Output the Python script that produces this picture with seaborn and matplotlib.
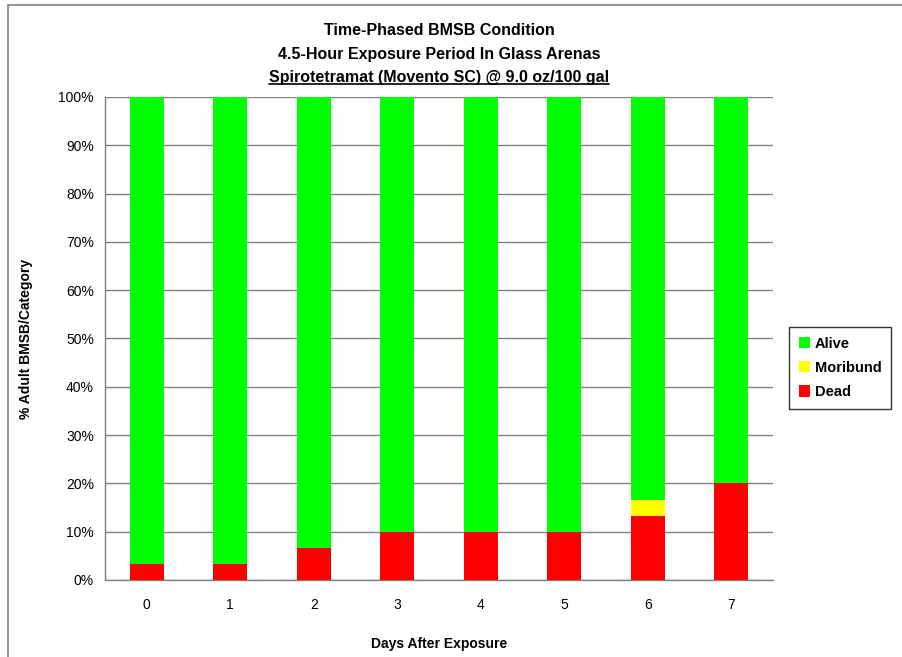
import numpy as np
import pandas as pd
import matplotlib
matplotlib.use("Agg")
import matplotlib.pyplot as plt
import seaborn as sns
from matplotlib.patches import Rectangle, Patch
from matplotlib.lines import Line2D

days = ["0", "1", "2", "3", "4", "5", "6", "7"]
dead = [3.33, 3.33, 6.67, 10.0, 10.0, 10.0, 13.33, 20.0]
moribund = [0.0, 0.0, 0.0, 0.0, 0.0, 0.0, 3.33, 0.0]
alive = [96.67, 96.67, 93.33, 90.0, 90.0, 90.0, 83.34, 80.0]
series = ["Alive", "Moribund", "Dead"]
colors = {"Alive": "#00FF00", "Moribund": "#FFFF00", "Dead": "#FF0000"}

sns.set_theme(style="white")
plt.rcParams["font.family"] = ["Liberation Sans", "DejaVu Sans"]
plt.rcParams["text.color"] = "black"
plt.rcParams["axes.labelcolor"] = "black"
plt.rcParams["xtick.color"] = "black"
plt.rcParams["ytick.color"] = "black"

df = pd.DataFrame({"Day": days, "Dead": dead, "Moribund": moribund, "Alive": alive})
df["top_dead"] = df["Dead"]
df["top_mori"] = df["Dead"] + df["Moribund"]
df["top_alive"] = df["top_mori"] + df["Alive"]

fig = plt.figure(figsize=(9.03, 6.57), dpi=100)
ax = fig.add_axes([0.1163, 0.1172, 0.7397, 0.7352])

# stacked bars drawn back-to-front from cumulative totals
for col, name in [("top_alive", "Alive"), ("top_mori", "Moribund"), ("top_dead", "Dead")]:
    sns.barplot(data=df, x="Day", y=col, color=colors[name], width=0.41,
                saturation=1, ax=ax, linewidth=0, zorder=3)

ax.set_ylim(0, 100)
ax.set_xlim(-0.5, 7.5)
ax.set_yticks(np.arange(0, 101, 10))
ax.set_yticklabels([f"{v}%" for v in range(0, 101, 10)], fontsize=10)
ax.set_xticks(range(8))
ax.set_xticklabels(days, fontsize=10)
ax.set_xticks(np.arange(-0.5, 8, 1), minor=True)
ax.tick_params(axis="x", which="major", length=0, pad=13, labelcolor="black")
ax.tick_params(axis="x", which="minor", length=5, color="#808080", width=1, direction="out")
ax.tick_params(axis="y", which="major", length=5, color="#808080", width=1, direction="out",
               pad=3, labelcolor="black")
ax.yaxis.grid(True, color="#808080", linewidth=1, zorder=0)
ax.set_axisbelow(True)
for s in ["top", "right"]:
    ax.spines[s].set_visible(False)
for s in ["left", "bottom"]:
    ax.spines[s].set_color("#808080")
    ax.spines[s].set_linewidth(1)

ax.set_xlabel("Days After Exposure", fontsize=10, fontweight="bold", labelpad=18, color="black")
ax.set_ylabel("% Adult BMSB/Category", fontsize=10, fontweight="bold", labelpad=18, color="black")

# three-line title, last line underlined
cx = 0.1163 + 0.7397 / 2
fig.text(cx, 0.953, "Time-Phased BMSB Condition", ha="center", va="center",
         fontsize=11.5, fontweight="bold", color="black")
fig.text(cx, 0.917, "4.5-Hour Exposure Period In Glass Arenas", ha="center", va="center",
         fontsize=11.5, fontweight="bold", color="black")
t3 = fig.text(cx, 0.882, "Spirotetramat (Movento SC) @ 9.0 oz/100 gal", ha="center", va="center",
              fontsize=11.5, fontweight="bold", color="black")
fig.canvas.draw()
bb = t3.get_window_extent().transformed(fig.transFigure.inverted())
fig.add_artist(Line2D([bb.x0, bb.x1], [bb.y0 + 0.002, bb.y0 + 0.002],
                      transform=fig.transFigure, color="black", linewidth=1.2))

handles = [Patch(facecolor=colors[n], edgecolor="none") for n in series]
leg = fig.legend(handles, series, loc="center left", bbox_to_anchor=(0.866, 0.44),
                 frameon=True, fancybox=False, edgecolor="black",
                 handlelength=0.8, handleheight=0.8, handletextpad=0.3,
                 labelspacing=0.7, borderpad=0.65, prop={"weight": "bold", "size": 10.5})
leg.get_frame().set_linewidth(1)
for t in leg.get_texts():
    t.set_color("black")

# outer chart border
fig.add_artist(Rectangle((0.009, -0.01), 1.2, 1.002, transform=fig.transFigure,
                         fill=False, edgecolor="#808080", linewidth=1.2))

fig.savefig("out.png", dpi=100)
